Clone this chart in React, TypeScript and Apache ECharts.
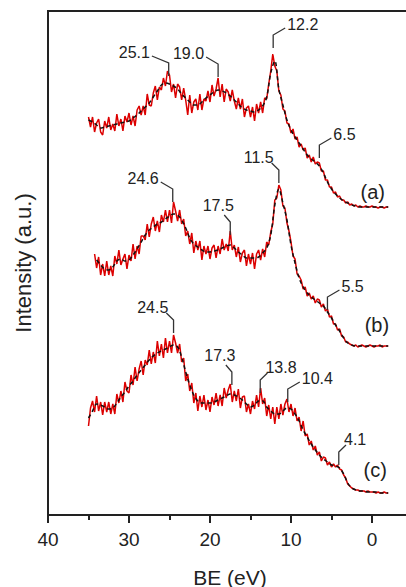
import React, { useEffect, useRef } from "react";
import * as echarts from "echarts";

// Energy grids (BE, eV), measured spectra every 0.25 eV, fitted curves every 0.5 eV
const RAW_START = 35;
const RAW_STEP = 0.25;
const FIT_START = 35;
const FIT_STEP = 0.5;

// Tick labels shown on the BE axis
const tickLabels = [40, 30, 20, 10, 0];

// Intensity (a.u., offset-stacked) — spectrum (a)
const rawA: (number | null)[] = [
  398, 388, 398, 383, 392, 396, 383, 380, 394, 387,
  398, 385, 391, 384, 401, 389, 396, 384, 399, 393,
  402, 390, 399, 389, 405, 409, 400, 409, 400, 421,
  410, 409, 422, 429, 415, 428, 425, 437, 429, 444,
  440, 423, 431, 417, 431, 428, 415, 427, 415, 400,
  420, 402, 413, 416, 405, 421, 405, 416, 414, 424,
  413, 430, 419, 426, 437, 418, 431, 413, 426, 423,
  414, 425, 414, 406, 417, 406, 416, 398, 407, 409,
  398, 408, 394, 411, 402, 413, 402, 417, 416, 431,
  444, 461, 449, 444, 424, 420, 406, 404, 392, 391,
  382, 386, 376, 378, 368, 371, 365, 367, 357, 360,
  353, 358, 351, 353, 352, 344, 344, 335, 335, 328,
  328, 322, 323, 318, 319, 315, 315, 312, 313, 310,
  311, 309, 310, 308, 309, 308, 308, 309, 308, 308,
  309, 308, 308, 307, 308, 308, 307, 308, 308,
];
const fitA: (number | null)[] = [
  395, 393, 390, 387, 388, 389, 390, 391, 392, 393,
  394, 397, 400, 404, 408, 412, 418, 424, 430, 432,
  431, 429, 426, 421, 417, 413, 410, 410, 413, 417,
  420, 423, 425, 424, 422, 419, 415, 411, 407, 405,
  404, 403, 405, 409, 418, 442, 454, 426, 410, 395,
  385, 378, 372, 366, 360, 356, 353, 349, 342, 333,
  326, 321, 317, 314, 312, 310, 309, 308, 308, 308,
  308, 308, 308, 308, 308,
];

// spectrum (b)
const rawB: (number | null)[] = [
  null, null, null, 261, 247, 258, 240, 251, 239, 254,
  240, 249, 239, 259, 251, 265, 250, 256, 261, 246,
  260, 254, 271, 256, 269, 261, 279, 279, 275, 291,
  278, 291, 298, 284, 294, 283, 300, 293, 305, 293,
  305, 292, 313, 304, 294, 305, 291, 296, 279, 284,
  271, 282, 262, 274, 265, 274, 255, 269, 261, 269,
  256, 267, 270, 257, 269, 261, 276, 265, 271, 264,
  284, 265, 270, 258, 268, 253, 262, 265, 249, 261,
  251, 262, 246, 261, 265, 255, 266, 258, 273, 270,
  283, 291, 315, 317, 330, 325, 309, 307, 292, 284,
  273, 259, 256, 241, 239, 235, 226, 228, 219, 222,
  216, 219, 212, 216, 215, 208, 211, 204, 206, 198,
  199, 191, 191, 185, 186, 179, 178, 173, 173, 171,
  170, 169, 170, 168, 169, 170, 169, 168, 169, 170,
  169, 168, 169, 169, 170, 168, 169, 169, 169,
];
const fitB: (number | null)[] = [
  null, null, 255, 250, 246, 245, 248, 254, 256, 254,
  255, 260, 266, 273, 280, 285, 288, 291, 293, 296,
  299, 301, 300, 295, 287, 277, 271, 268, 265, 263,
  263, 264, 265, 267, 269, 270, 267, 263, 260, 257,
  257, 257, 258, 262, 267, 280, 310, 326, 312, 295,
  270, 252, 237, 228, 222, 218, 215, 212, 209, 203,
  197, 190, 184, 177, 172, 170, 169, 169, 169, 169,
  169, 169, 169, 169, 169,
];

// spectrum (c)
const rawC: (number | null)[] = [
  89, 107, 114, 103, 119, 104, 113, 100, 113, 103,
  113, 101, 111, 101, 121, 112, 124, 113, 133, 124,
  122, 140, 130, 148, 134, 146, 154, 140, 155, 150,
  165, 151, 163, 152, 174, 159, 171, 157, 177, 162,
  174, 162, 180, 172, 162, 171, 153, 157, 134, 141,
  124, 132, 112, 122, 104, 119, 108, 120, 105, 115,
  103, 118, 110, 122, 109, 120, 109, 127, 117, 125,
  131, 113, 124, 114, 126, 107, 118, 119, 103, 111,
  101, 114, 106, 120, 108, 127, 111, 117, 99, 110,
  96, 108, 91, 108, 96, 111, 100, 111, 116, 103,
  111, 99, 107, 94, 98, 84, 94, 79, 81, 70,
  74, 65, 69, 60, 63, 54, 58, 57, 50, 53,
  48, 51, 48, 50, 46, 45, 40, 37, 31, 29,
  27, 26, 25, 25, 24, 24, 24, 23, 24, 23,
  23, 23, 22, 23, 22, 22, 23, 22, 22,
];
const fitC: (number | null)[] = [
  97, 104, 111, 110, 108, 106, 107, 112, 118, 123,
  129, 134, 140, 145, 150, 155, 159, 162, 164, 166,
  168, 170, 168, 158, 143, 130, 120, 114, 112, 112,
  112, 113, 115, 117, 119, 121, 120, 118, 115, 111,
  108, 110, 114, 114, 108, 104, 101, 101, 104, 107,
  106, 101, 94, 85, 78, 71, 65, 60, 56, 53,
  50, 49, 47, 41, 32, 27, 25, 24, 24, 23,
  23, 23, 22, 22, 22,
];

// Peak annotations: label, BE position, intensity at the leader foot
const peakLabels = ["25.1", "19.0", "12.2", "6.5", "24.6", "17.5", "11.5", "5.5", "24.5", "17.3", "13.8", "10.4", "4.1"];
const peakBE = [25.1, 19.0, 12.2, 6.5, 24.6, 17.5, 11.5, 5.5, 24.5, 17.3, 13.8, 10.4, 4.1];
const peakY = [439, 438, 467, 357, 313, 280, 332, 205, 182, 130, 122, 113, 50];
// leader direction (sign) and lean (|lean| <= 0.5: label centred above; < 1: short kink)
const peakSide = [-1.4, -1, 1, 1, -1, -0.5, -0.6, 1, -0.6, -0.5, 0.6, 1, 0.6];

// Curve tags
const curveTags = ["(a)", "(b)", "(c)"];
const curveTagBE = [-0.1, -0.6, -0.4];
const curveTagY = [323, 190, 45];

const FONT = '"Liberation Sans", Arial, Helvetica, sans-serif';
const INK = "#222";

function toPairs(start: number, step: number, vals: (number | null)[]) {
  const out: number[][] = [];
  vals.forEach((v, i) => {
    if (v !== null && v !== undefined) out.push([start - step * i, v]);
  });
  return out;
}

export default function App() {
  const ref = useRef<HTMLDivElement>(null);
  useEffect(() => {
    if (!ref.current) return;
    const chart = echarts.init(ref.current, null, { renderer: "svg" });
    const rawStyle = { color: "#dc0000", width: 1.5 };
    const fitStyle = { color: "#111", width: 1.5, type: [4, 3] as any };
    const raws = [rawA, rawB, rawC];
    const fits = [fitA, fitB, fitC];
    const series: any[] = [];
    raws.forEach((r, k) => {
      series.push({
        type: "line",
        name: "raw" + k,
        data: toPairs(RAW_START, RAW_STEP, r),
        showSymbol: false,
        symbol: "none",
        lineStyle: rawStyle,
        z: 2,
        silent: true,
      });
    });
    fits.forEach((f, k) => {
      series.push({
        type: "line",
        name: "fit" + k,
        data: toPairs(FIT_START, FIT_STEP, f),
        showSymbol: false,
        symbol: "none",
        smooth: 0.35,
        lineStyle: fitStyle,
        z: 3,
        silent: true,
      });
    });
    series.push({
      type: "custom",
      coordinateSystem: "cartesian2d",
      z: 5,
      silent: true,
      data: peakBE.map((x, i) => [x, peakY[i], peakSide[i]]),
      renderItem: (params: any, api: any) => {
        const p = api.coord([api.value(0), api.value(1)]);
        const lean = api.value(2);
        const dir = lean < 0 ? -1 : 1;
        const mag = Math.abs(lean);
        const x0 = p[0];
        const y0 = p[1];
        const y1 = y0 - 13;
        const x2 = x0 + lean * 12;
        const y2 = y1 - 7;
        let tx = x2 + dir * 2;
        let ty = y2 - 4;
        let align = dir < 0 ? "right" : "left";
        if (mag <= 0.5) {
          tx = x2 + dir * 6;
          ty = y2 - 10;
          align = "center";
        } else if (mag < 1) {
          tx = x2 - dir * 2;
          ty = y2 - 6;
        }
        return {
          type: "group",
          children: [
            {
              type: "polyline",
              shape: { points: [[x0, y0], [x0, y1], [x2, y2]] },
              style: { stroke: "#333", lineWidth: 1.3, fill: null },
            },
            {
              type: "text",
              x: tx,
              y: ty,
              style: {
                text: peakLabels[params.dataIndex],
                fill: INK,
                fontSize: 16,
                fontFamily: FONT,
                align,
                verticalAlign: "middle",
              },
            },
          ],
        };
      },
    });
    series.push({
      type: "custom",
      coordinateSystem: "cartesian2d",
      z: 5,
      silent: true,
      data: curveTagBE.map((x, i) => [x, curveTagY[i]]),
      renderItem: (params: any, api: any) => {
        const p = api.coord([api.value(0), api.value(1)]);
        return {
          type: "text",
          x: p[0],
          y: p[1],
          style: {
            text: curveTags[params.dataIndex],
            fill: INK,
            fontSize: 20,
            fontFamily: FONT,
            align: "center",
            verticalAlign: "middle",
          },
        };
      },
    });

    chart.setOption({
      animation: false,
      backgroundColor: "#fff",
      textStyle: { fontFamily: FONT },
      grid: {
        left: 48,
        top: 11,
        width: 405,
        height: 504,
        show: true,
        borderColor: INK,
        borderWidth: 2,
        backgroundColor: "transparent",
      },
      xAxis: {
        type: "value",
        inverse: true,
        min: -10,
        max: 40,
        interval: 10,
        axisLine: { show: true, onZero: false, lineStyle: { color: INK, width: 2 } },
        axisTick: { show: true, length: 8, inside: false, lineStyle: { color: INK, width: 2 } },
        minorTick: { show: true, splitNumber: 2, length: 5, lineStyle: { color: INK, width: 2 } },
        axisLabel: {
          fontSize: 19,
          color: INK,
          margin: 15,
          fontFamily: FONT,
          showMinLabel: false,
          formatter: (v: number) => (tickLabels.indexOf(v) >= 0 ? String(v) : ""),
        },
        splitLine: { show: false },
        minorSplitLine: { show: false },
      },
      yAxis: {
        type: "value",
        min: 0,
        max: 504,
        axisLine: { show: true, onZero: false, lineStyle: { color: INK, width: 2 } },
        axisTick: { show: false },
        axisLabel: { show: false },
        splitLine: { show: false },
        name: "Intensity (a.u.)",
        nameLocation: "middle",
        nameGap: 14,
        nameTextStyle: { fontSize: 22, color: INK, fontFamily: FONT },
      },
      graphic: [
        {
          type: "text",
          x: 230,
          y: 577,
          style: {
            text: "BE (eV)",
            fill: INK,
            fontSize: 21,
            fontFamily: FONT,
            align: "center",
            verticalAlign: "middle",
          },
        },
      ],
      series,
    });
    return () => chart.dispose();
  }, []);
  return (
    <div
      style={{
        position: "fixed",
        left: 0,
        top: 0,
        width: 406,
        height: 587,
        overflow: "hidden",
        background: "#fff",
      }}
    >
      <div ref={ref} style={{ width: 470, height: 587 }} />
    </div>
  );
}
